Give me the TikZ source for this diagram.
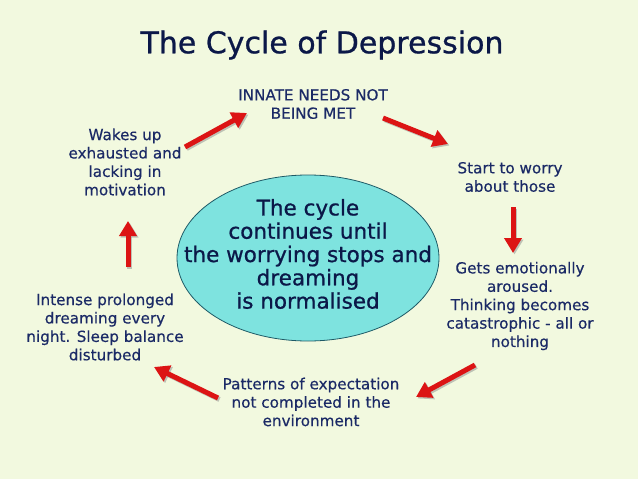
\documentclass[tikz,border=0pt]{standalone}
\usepackage{fontspec}
\setmainfont{DejaVu Sans}
\newfontfamily\heavyfont[FakeBold=0.8]{DejaVu Sans}
\newfontfamily\medfont[FakeBold=0.4]{DejaVu Sans}
\usetikzlibrary{arrows.meta,shapes.geometric}
\definecolor{bg}{HTML}{F2F9DF}
\definecolor{titleblue}{HTML}{0B1848}
\definecolor{txtblue}{HTML}{1B2A66}
\definecolor{ellfill}{HTML}{7EE3DF}
\definecolor{elldraw}{HTML}{1E5A66}
\definecolor{arrred}{HTML}{DC1414}
\tikzset{
  lbl/.style={text=txtblue, font=\medfont\fontsize{15.2}{18.4}\selectfont, align=center, inner sep=0pt},
  redarrow/.style={draw=arrred, line width=5pt, -{Triangle[length=15pt,width=17pt]}, shorten >=0pt},
  shadowarrow/.style={draw=black!45, opacity=0.5, line width=5pt, -{Triangle[length=15pt,width=17pt]}},
}
\begin{document}
\begin{tikzpicture}[x=1pt,y=-1pt]
\fill[bg] (0,0) rectangle (638,479);
\useasboundingbox (0,0) rectangle (638,479);

\node[text=titleblue, font=\heavyfont\fontsize{30}{34}\selectfont, inner sep=0pt] (title) at (322,45) {The Cycle of Depression};

\node[ellipse, draw=elldraw, line width=0.8pt, fill=ellfill, minimum width=262pt, minimum height=166pt, inner sep=0pt] (ell) at (308,258) {};
\node[text=titleblue, font=\heavyfont\fontsize{21.5}{23.3}\selectfont, align=center, inner sep=0pt] (etext) at (308,254) {The cycle\\continues until\\the worrying stops and\\dreaming\\is normalised};

\node[lbl] (needs) at (313,104) {INNATE NEEDS NOT\\BEING MET};
\node[lbl] (worry) at (510,177) {Start to worry\\about those};
\node[lbl] (aroused) at (520,306) {Gets emotionally\\aroused.\\Thinking becomes\\catastrophic - all or\\nothing};
\node[lbl] (patterns) at (311,402) {Patterns of expectation\\not completed in the\\environment};
\node[lbl] (intense) at (105,327) {Intense prolonged\\dreaming every\\night. Sleep balance\\disturbed};
\node[lbl] (wakes) at (125,162) {Wakes up\\exhausted and\\lacking in\\motivation};

\coordinate (a1s) at (185,147); \coordinate (a1e) at (247,113);
\coordinate (a2s) at (383,118); \coordinate (a2e) at (448,144);
\coordinate (a3s) at (513,207); \coordinate (a3e) at (513,253);
\coordinate (a4s) at (475,365); \coordinate (a4e) at (416,397);
\coordinate (a5s) at (218,398); \coordinate (a5e) at (154,367);
\coordinate (a6s) at (128,267); \coordinate (a6e) at (128,221);

\foreach \s/\e in {a1s/a1e,a2s/a2e,a3s/a3e,a4s/a4e,a5s/a5e,a6s/a6e}{
  \draw[shadowarrow] ([shift={(1.5,1.5)}]\s) -- ([shift={(1.5,1.5)}]\e);
  \draw[redarrow] (\s) -- (\e);
}
\end{tikzpicture}
\end{document}
